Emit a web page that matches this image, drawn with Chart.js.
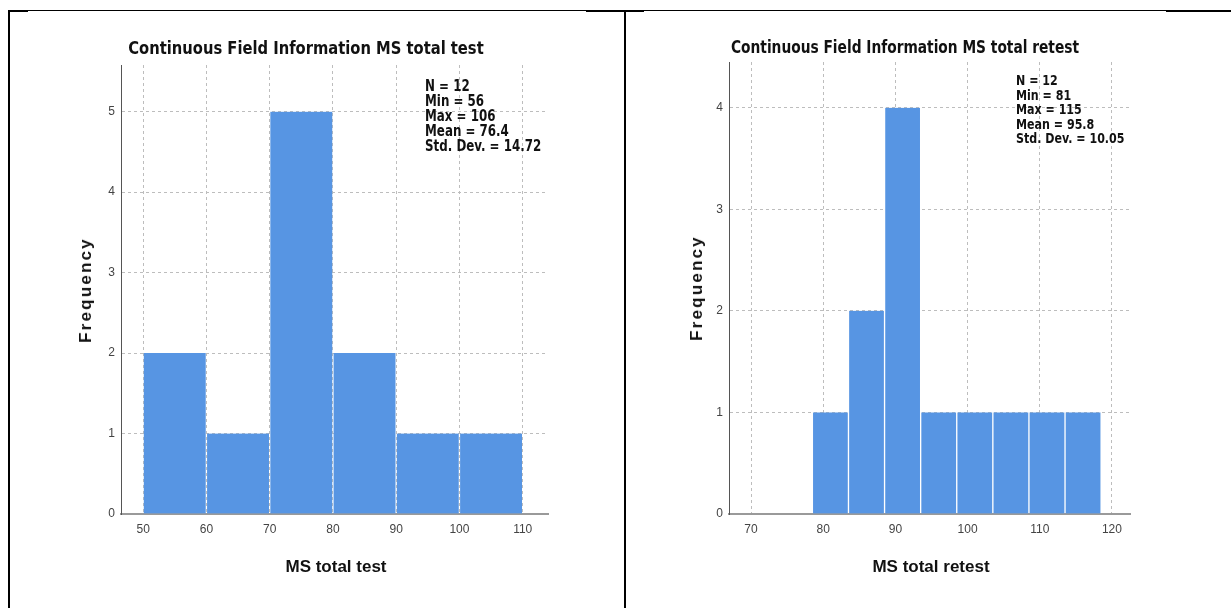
<!DOCTYPE html>
<html>
<head>
<meta charset="utf-8">
<script src="https://cdn.jsdelivr.net/npm/chart.js@4.4.1/dist/chart.umd.min.js"></script>
<style>
  html, body { margin: 0; padding: 0; background: #fff; }
  #page { position: relative; width: 1231px; height: 608px; overflow: hidden; background: #fff; }
  canvas { position: absolute; }
  .line { position: absolute; background: #000; }
  .title { position: absolute; font: bold 18px "Liberation Sans Narrow", "DejaVu Sans Condensed", "Arial Narrow", sans-serif; color: #111; white-space: nowrap; transform: translateX(-50%) scaleX(0.91); }
  .stats { position: absolute; font: bold 15px "Liberation Sans Narrow", "DejaVu Sans Condensed", "Arial Narrow", sans-serif; line-height: 15px; color: #111; white-space: pre; transform: scaleX(0.88); transform-origin: left top; }
  .ytitle { position: absolute; font: bold 17px "Liberation Sans", Arial, sans-serif; letter-spacing: 2.2px; color: #111; white-space: nowrap; transform: translate(-50%, -50%) rotate(-90deg); }
  .xtitle { position: absolute; font: bold 17px "Liberation Sans", Arial, sans-serif; color: #111; white-space: nowrap; transform: translate(-50%, -50%); }
</style>
</head>
<body>
<div id="page">
  <!-- table frame -->
  <div class="line" style="left:8px;top:10px;width:1223px;height:1px;"></div>
  <div class="line" style="left:8px;top:10px;width:20px;height:2px;"></div>
  <div class="line" style="left:586px;top:10px;width:58px;height:2px;"></div>
  <div class="line" style="left:1166px;top:10px;width:65px;height:2px;"></div>
  <div class="line" style="left:8px;top:10px;width:2px;height:598px;"></div>
  <div class="line" style="left:624px;top:10px;width:2px;height:598px;"></div>

  <canvas id="testChart"></canvas>
  <canvas id="retestChart"></canvas>

  <div class="title" style="left:306px;top:37px;">Continuous Field Information MS total test</div>
  <div class="title" style="left:905px;top:37px;font-size:17px;transform:translateX(-50%) scaleX(0.9);">Continuous Field Information MS total retest</div>

  <div class="stats" id="testStats" style="left:425px;top:79px;"></div>
  <div class="stats" id="retestStats" style="left:1016px;top:73px;font-size:14px;line-height:14.5px;"></div>

  <div class="ytitle" style="left:86px;top:290px;">Frequency</div>
  <div class="ytitle" style="left:697px;top:288px;">Frequency</div>

  <div class="xtitle" style="left:336px;top:567px;">MS total test</div>
  <div class="xtitle" style="left:931px;top:567px;">MS total retest</div>
</div>

<script>
// MS total test: bin centres (width 10) and counts
const testBins = [55, 65, 75, 85, 95, 105];
const testCounts = [2, 1, 5, 2, 1, 1];
const testXTicks = [50, 60, 70, 80, 90, 100, 110];
const testYTicks = [0, 1, 2, 3, 4, 5];
const testStats = ['N = 12', 'Min = 56', 'Max = 106', 'Mean = 76.4', 'Std. Dev. = 14.72'];

// MS total retest: bin centres (width 5) and counts
const retestBins = [81, 86, 91, 96, 101, 106, 111, 116];
const retestCounts = [1, 2, 4, 1, 1, 1, 1, 1];
const retestXTicks = [70, 80, 90, 100, 110, 120];
const retestYTicks = [0, 1, 2, 3, 4];
const retestStats = ['N = 12', 'Min = 81', 'Max = 115', 'Mean = 95.8', 'Std. Dev. = 10.05'];

document.getElementById('testStats').textContent = testStats.join('\n');
document.getElementById('retestStats').textContent = retestStats.join('\n');

const BAR_COLOR = '#5795e3';
const GRID_COLOR = '#bdbdbd';
const TICK_FONT = { family: '"Liberation Sans", Arial, sans-serif', size: 12 };

function histogram(canvasId, box, bins, counts, xTicks, yTicks, xRange, yMax) {
    const canvas = document.getElementById(canvasId);
    canvas.style.left = box.left + 'px';
    canvas.style.top = '0px';
    canvas.width = box.width;
    canvas.height = 608;
    canvas.style.width = box.width + 'px';
    canvas.style.height = '608px';

    return new Chart(canvas.getContext('2d'), {
        type: 'bar',
        data: {
            datasets: [{
                data: bins.map((b, i) => ({ x: b, y: counts[i] })),
                backgroundColor: BAR_COLOR,
                // transparent side borders leave a small gap between bars
                borderColor: 'rgba(255,255,255,0)',
                borderWidth: { left: 1, right: 1, top: 0, bottom: 0 },
                borderSkipped: false,
                barPercentage: 1,
                categoryPercentage: 1
            }]
        },
        options: {
            responsive: false,
            animation: false,
            layout: { padding: box.padding },
            plugins: { legend: { display: false }, tooltip: { enabled: false } },
            scales: {
                x: {
                    type: 'linear',
                    offset: false,
                    min: xRange[0],
                    max: xRange[1],
                    grid: { color: GRID_COLOR, drawTicks: false, offset: false },
                    border: { color: '#9a9a9a', width: 2, dash: [3, 3] },
                    ticks: { color: '#444', font: TICK_FONT, padding: 8, maxRotation: 0 },
                    afterBuildTicks: s => { s.ticks = xTicks.map(v => ({ value: v })); },
                    afterFit: s => { s.height = 24; }
                },
                y: {
                    min: 0,
                    max: yMax,
                    grid: { color: GRID_COLOR, drawTicks: false },
                    border: { color: '#555', width: 1, dash: [3, 3] },
                    ticks: { color: '#444', font: TICK_FONT, padding: 6 },
                    afterBuildTicks: s => { s.ticks = yTicks.map(v => ({ value: v })); },
                    afterFit: s => { s.width = 30; }
                }
            }
        }
    });
}

histogram('testChart',
    { left: 0, width: 620, padding: { left: 91, top: 65, right: 72, bottom: 70 } },
    testBins, testCounts, testXTicks, testYTicks, [46.5, 114], 5.58);

histogram('retestChart',
    { left: 615, width: 616, padding: { left: 84, top: 62, right: 101, bottom: 70 } },
    retestBins, retestCounts, retestXTicks, retestYTicks, [66.95, 122.5], 4.45);
</script>
</body>
</html>
